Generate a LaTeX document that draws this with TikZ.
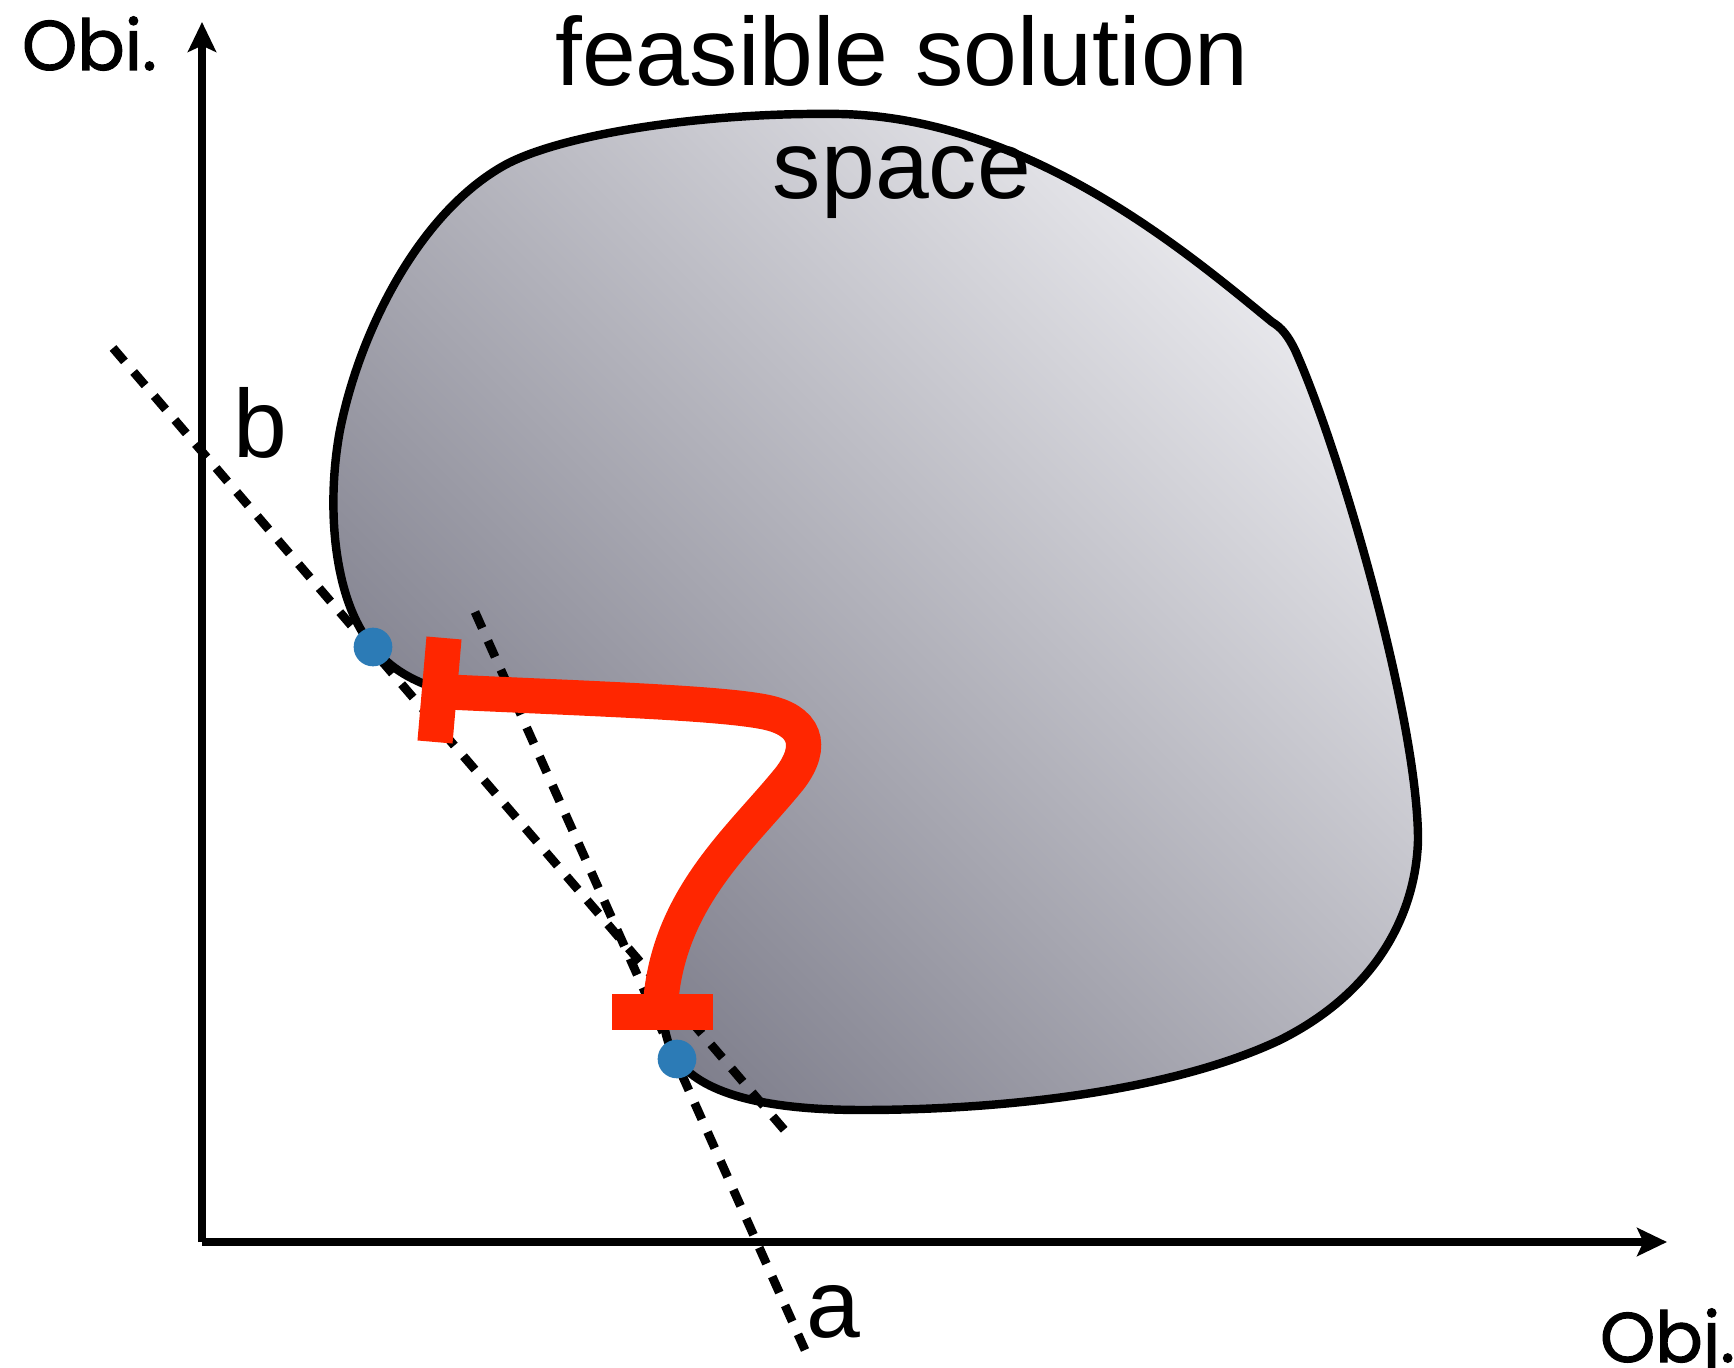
\documentclass[tikz,border=0pt]{standalone}
\usepackage{fontspec}
\setmainfont{Liberation Sans}
\newfontfamily\obifont{Poppins}[FakeBold=1.5]
\usetikzlibrary{arrows.meta}
\definecolor{blobdark}{RGB}{120,120,134}
\definecolor{bloblight}{RGB}{234,234,238}
\definecolor{paretored}{RGB}{255,38,0}
\definecolor{dotblue}{RGB}{44,123,182}
\begin{document}
\begin{tikzpicture}[x=0.01cm, y=-0.01cm]
    \tikzset{every node/.style={inner sep=0pt, outer sep=0pt},
        axisline/.style={line width=2pt, -{Stealth[length=8.5pt, width=8pt, inset=1.8pt]}},
        tanline/.style={line width=2.5pt, dash pattern=on 5pt off 4pt},
        blobline/.style={line width=2.4pt, line join=round},
        redline/.style={line width=10pt, draw=paretored},
        dotpt/.style={circle, fill=dotblue, minimum size=11pt},
        bigtext/.style={font=\fontsize{27.5}{33}\selectfont, anchor=base},
        objtext/.style={font=\obifont\fontsize{20}{24}\selectfont, anchor=base west}}
    \useasboundingbox (0,0) rectangle (1734,1368);
    \coordinate (origin) at (202,1242);
    \coordinate (ytip) at (202,22);
    \coordinate (xtip) at (1667,1242);
    \draw[axisline] (origin) -- (ytip);
    \draw[axisline] (origin) -- (xtip);
    \draw[blobline, top color=bloblight, bottom color=blobdark, shading angle=-45]
        (663,1012) .. controls (664,1035) and (670,1050) .. (677,1059)
        .. controls (700,1092) and (760,1110) .. (862,1110)
        .. controls (1000,1110) and (1170,1092) .. (1280,1040)
        .. controls (1380,990) and (1416,910) .. (1418,840)
        .. controls (1418,720) and (1340,450) .. (1295,350)
        .. controls (1288,336) and (1282,328) .. (1272,322)
        .. controls (1190,255) and (1030,118) .. (840,114)
        .. controls (700,112) and (560,135) .. (505,165)
        .. controls (420,212) and (360,330) .. (340,430)
        .. controls (326,505) and (333,600) .. (373,647)
        .. controls (390,668) and (412,682) .. (448,692)
        .. controls (600,699) and (720,703) .. (765,712)
        .. controls (805,720) and (815,745) .. (790,778)
        .. controls (740,840) and (668,900) .. (663,1012) -- cycle;
    \coordinate (b1) at (113,348);
    \coordinate (b2) at (793,1140);
    \coordinate (a1) at (475,612);
    \coordinate (a2) at (805,1350);
    \draw[tanline] (b1) -- (b2);
    \draw[tanline] (a1) -- (a2);
    \coordinate (r1) at (448,692);
    \coordinate (r2) at (660,1012);
    \draw[redline] (r1) .. controls (600,699) and (720,703) .. (765,712)
        .. controls (805,720) and (815,745) .. (790,778)
        .. controls (740,840) and (665,900) .. (r2);
    \coordinate (lb1) at (444,638);
    \coordinate (lb2) at (435,742);
    \coordinate (bb1) at (612,1012);
    \coordinate (bb2) at (713,1012);
    \draw[redline] (lb1) -- (lb2);
    \draw[redline] (bb1) -- (bb2);
    \node[dotpt] (p1) at (373,647) {};
    \node[dotpt] (p2) at (677,1059) {};
    \node[bigtext] (fs1) at (902,86) {feasible solution};
    \node[bigtext] (fs2) at (902,199) {space};
    \node[bigtext, anchor=base west] (blab) at (233,458) {b};
    \node[bigtext, anchor=base west] (alab) at (806,1337) {a};
    \node[objtext] (ylab) at (22,70) {Obi.};
    \node[objtext] (xlab) at (1600,1362) {Obj.};
\end{tikzpicture}
\end{document}
